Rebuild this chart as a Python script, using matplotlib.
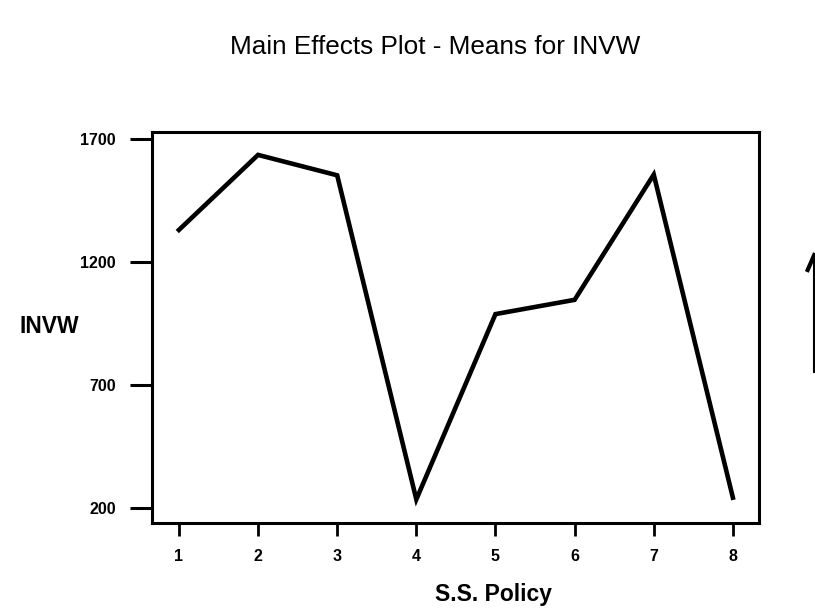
import matplotlib
matplotlib.use("Agg")
import matplotlib.pyplot as plt
from matplotlib.lines import Line2D

# main effect means
policy = [1, 2, 3, 4, 5, 6, 7, 8]
invw_mean = [1330, 1635, 1552, 235, 988, 1046, 1555, 242]
yticks = [200, 700, 1200, 1700]

plt.rcParams['font.family'] = ['Liberation Sans', 'DejaVu Sans']

fig = plt.figure(figsize=(8.15, 6.12), dpi=100)
ax = fig.add_axes([0.1865, 0.1454, 0.7448, 0.6389])

ax.plot(policy, invw_mean, color='black', linewidth=3.3, solid_joinstyle='miter')

ax.set_xlim(0.66, 8.33)
ax.set_ylim(139, 1728)
ax.set_xticks(policy)
ax.set_yticks(yticks)

for s in ax.spines.values():
    s.set_linewidth(2.2)
ax.tick_params(axis='y', length=16, width=2.2, pad=10, labelsize=11.5)
ax.tick_params(axis='x', length=9.5, width=2.0, pad=9, labelsize=11.5)
for lab in ax.get_xticklabels() + ax.get_yticklabels():
    lab.set_fontweight('bold')

fig.text(0.534, 0.923, 'Main Effects Plot - Means for INVW', ha='center',
         va='center', fontsize=18.8)
fig.text(0.060, 0.467, 'INVW', ha='center', va='center', fontsize=16.5,
         fontweight='bold')
fig.text(0.605, 0.028, 'S.S. Policy', ha='center', va='center', fontsize=16.5,
         fontweight='bold')

# cut-off mark at the right edge of the scan
fig.add_artist(Line2D([0.999, 0.999], [1 - 255 / 612, 1 - 372 / 612],
                      color='black', linewidth=1.5, transform=fig.transFigure))
fig.add_artist(Line2D([0.991, 0.999], [1 - 270 / 612, 1 - 255 / 612],
                      color='black', linewidth=3, transform=fig.transFigure))

fig.savefig('out.png', dpi=100)
